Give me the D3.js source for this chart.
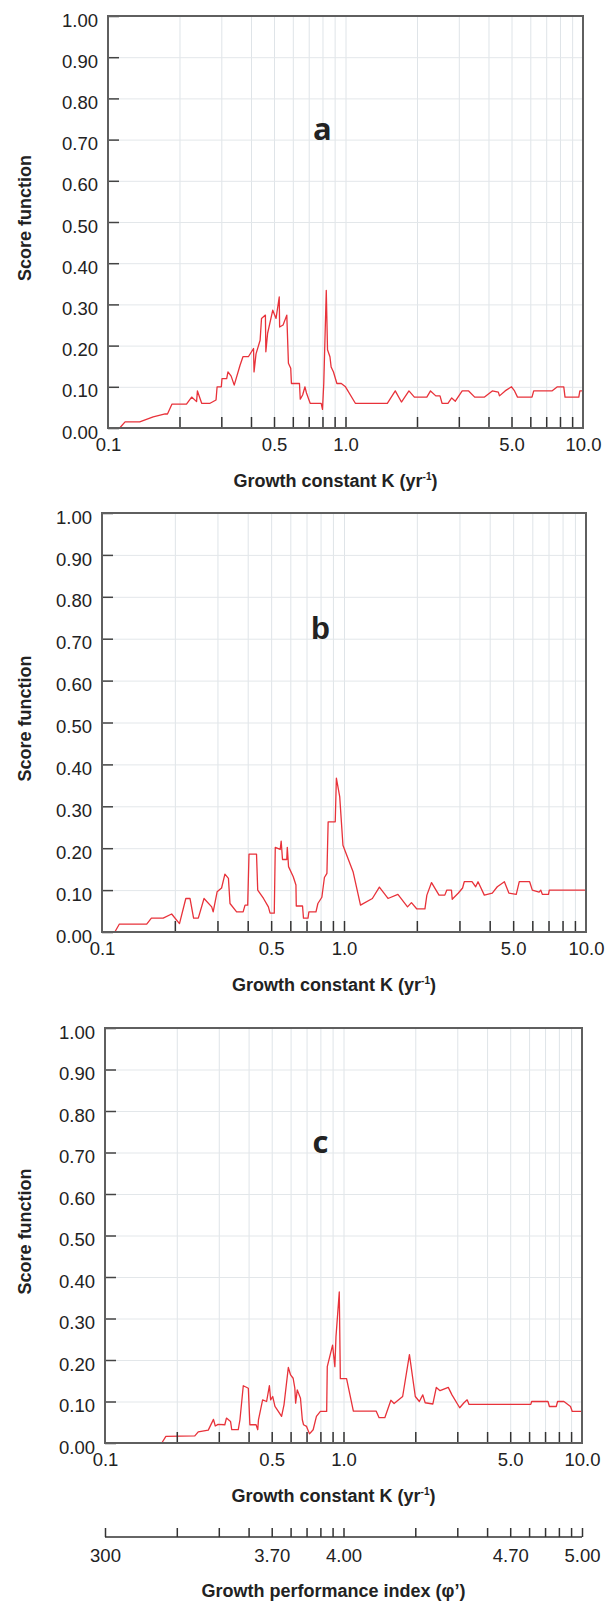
<!DOCTYPE html>
<html>
<head>
<meta charset="utf-8">
<script src="https://cdn.jsdelivr.net/npm/d3@7"></script>
<style>
  body { margin: 0; background: #fff; }
  svg { display: block; }
  .tick text { font-family: "Liberation Sans", Arial, sans-serif; }
</style>
</head>
<body>
<svg id="chart" width="616" height="1604"></svg>
<script>
// ---- data
const kA = [0.112,0.118,0.136,0.155,0.174,0.178,0.186,0.214,0.225,0.236,0.238,0.248,0.269,0.285,0.288,0.30,0.302,0.316,0.32,0.33,0.34,0.36,0.37,0.39,0.41,0.412,0.42,0.437,0.443,0.46,0.462,0.47,0.494,0.51,0.526,0.528,0.546,0.566,0.575,0.588,0.592,0.64,0.645,0.66,0.675,0.685,0.71,0.79,0.80,0.81,0.83,0.84,0.86,0.87,0.89,0.92,0.96,1.0,1.1,1.5,1.62,1.72,1.85,1.95,2.2,2.28,2.4,2.5,2.55,2.7,2.8,2.9,3.1,3.3,3.5,3.85,4.15,4.4,4.45,4.7,5.0,5.15,5.3,6.1,6.2,7.4,7.8,8.3,8.4,9.6,9.7,10];
const scoreA = [0,0.015,0.015,0.027,0.034,0.034,0.058,0.058,0.075,0.064,0.09,0.06,0.06,0.068,0.10,0.10,0.12,0.12,0.136,0.126,0.104,0.153,0.173,0.173,0.193,0.136,0.18,0.213,0.266,0.274,0.185,0.23,0.286,0.266,0.318,0.245,0.25,0.274,0.157,0.145,0.108,0.108,0.07,0.08,0.10,0.085,0.06,0.06,0.045,0.108,0.334,0.19,0.173,0.148,0.136,0.108,0.108,0.10,0.06,0.06,0.09,0.063,0.09,0.075,0.075,0.09,0.078,0.078,0.06,0.06,0.073,0.065,0.09,0.09,0.075,0.075,0.09,0.087,0.078,0.09,0.10,0.09,0.075,0.075,0.09,0.09,0.10,0.10,0.075,0.075,0.09,0.09];

const kB = [0.113,0.118,0.153,0.16,0.179,0.194,0.209,0.222,0.231,0.239,0.25,0.264,0.284,0.288,0.299,0.312,0.322,0.333,0.338,0.36,0.383,0.39,0.40,0.405,0.435,0.44,0.465,0.487,0.495,0.515,0.52,0.545,0.55,0.557,0.58,0.583,0.59,0.617,0.633,0.635,0.674,0.68,0.71,0.716,0.766,0.78,0.81,0.83,0.85,0.86,0.92,0.93,0.96,0.99,1.09,1.17,1.31,1.40,1.52,1.67,1.83,1.9,2.0,2.16,2.2,2.3,2.47,2.61,2.66,2.78,2.8,2.97,3.09,3.14,3.38,3.5,3.58,3.8,4.1,4.3,4.6,4.8,5.15,5.3,5.85,6.0,6.4,6.5,6.6,7.0,7.05,10];
const scoreB = [0,0.019,0.019,0.033,0.033,0.043,0.02,0.08,0.08,0.033,0.033,0.08,0.06,0.048,0.096,0.105,0.138,0.128,0.068,0.048,0.048,0.064,0.064,0.186,0.186,0.10,0.08,0.06,0.045,0.045,0.202,0.197,0.217,0.173,0.173,0.202,0.156,0.132,0.112,0.062,0.062,0.033,0.033,0.048,0.048,0.068,0.083,0.13,0.14,0.263,0.263,0.367,0.323,0.207,0.144,0.064,0.08,0.107,0.08,0.09,0.06,0.07,0.055,0.055,0.088,0.118,0.088,0.088,0.10,0.10,0.078,0.093,0.105,0.12,0.12,0.108,0.12,0.088,0.093,0.108,0.12,0.093,0.09,0.12,0.12,0.10,0.095,0.10,0.09,0.09,0.10,0.10];

const kC = [0.173,0.18,0.238,0.246,0.271,0.285,0.29,0.298,0.318,0.323,0.336,0.34,0.362,0.368,0.38,0.399,0.405,0.43,0.437,0.44,0.458,0.476,0.489,0.495,0.505,0.516,0.533,0.55,0.563,0.587,0.60,0.615,0.625,0.63,0.64,0.66,0.672,0.68,0.70,0.72,0.746,0.77,0.80,0.85,0.855,0.90,0.92,0.93,0.96,0.97,1.03,1.1,1.37,1.41,1.49,1.58,1.63,1.77,1.89,2.0,2.08,2.15,2.2,2.37,2.45,2.54,2.75,2.85,3.07,3.2,3.3,3.36,6.1,6.15,7.2,7.3,7.8,7.9,8.4,8.95,9.1,10];
const scoreC = [0,0.016,0.017,0.027,0.031,0.057,0.041,0.045,0.044,0.06,0.052,0.032,0.032,0.056,0.138,0.132,0.044,0.044,0.032,0.056,0.104,0.10,0.138,0.104,0.112,0.088,0.076,0.064,0.092,0.182,0.164,0.156,0.132,0.096,0.128,0.108,0.056,0.044,0.04,0.022,0.032,0.064,0.076,0.076,0.184,0.236,0.184,0.256,0.364,0.155,0.155,0.077,0.077,0.061,0.061,0.103,0.095,0.112,0.213,0.112,0.10,0.116,0.097,0.094,0.134,0.126,0.134,0.116,0.085,0.097,0.104,0.093,0.093,0.10,0.10,0.088,0.088,0.10,0.10,0.088,0.076,0.076];

const yTickValues = [0,0.1,0.2,0.3,0.4,0.5,0.6,0.7,0.8,0.9,1.0];
const minorK = [0.2,0.3,0.4,0.5,0.6,0.7,0.8,0.9,1,2,3,4,5,6,7,8,9];
const labelK = [0.1,0.5,1,5,10];
const labelKText = ["0.1","0.5","1.0","5.0","10.0"];
const phiLabels = ["300","3.70","4.00","4.70","5.00"];

const panels = [
  { letter: "a", k: kA, s: scoreA, x0: 108, x1: 583, top: 16, bot: 428, letterFont: "Open Sans" },
  { letter: "b", k: kB, s: scoreB, x0: 102, x1: 586, top: 513, bot: 932, letterFont: "Liberation Sans" },
  { letter: "c", k: kC, s: scoreC, x0: 105, x1: 582, top: 1028, bot: 1443, letterFont: "Open Sans" }
];

const svg = d3.select('#chart');
svg.append('rect').attr('width', 616).attr('height', 1604).attr('fill', '#fff');

const numFont = '"Liberation Sans", Arial, sans-serif';

function drawPanel(p) {
  const x = d3.scaleLog().domain([0.1, 10]).range([p.x0, p.x1]);
  const y = d3.scaleLinear().domain([0, 1]).range([p.bot, p.top]);
  const g = svg.append('g');

  // grid
  g.append('g')
    .attr('transform', `translate(0,${p.bot})`)
    .call(d3.axisBottom(x).tickValues(minorK).tickSize(-(p.bot - p.top)).tickFormat(''))
    .call(a => a.select('.domain').remove())
    .selectAll('line').attr('stroke', '#dfe4e8').attr('stroke-width', 1);
  g.append('g')
    .attr('transform', `translate(${p.x0},0)`)
    .call(d3.axisLeft(y).tickValues(yTickValues.slice(1, 10)).tickSize(-(p.x1 - p.x0)).tickFormat(''))
    .call(a => a.select('.domain').remove())
    .selectAll('line').attr('stroke', '#e3e7ea').attr('stroke-width', 1);

  // line
  const pts = p.k.map((k, i) => ({ k, s: p.s[i] }));
  g.append('path')
    .datum(pts)
    .attr('fill', 'none')
    .attr('stroke', '#e8323a')
    .attr('stroke-width', 1.3)
    .attr('stroke-linejoin', 'round')
    .attr('d', d3.line().x(d => x(d.k)).y(d => y(d.s)));

  // inner ticks
  g.append('g')
    .attr('transform', `translate(0,${p.bot})`)
    .call(d3.axisBottom(x).tickValues(minorK).tickSize(-11).tickFormat(''))
    .call(a => a.select('.domain').remove())
    .selectAll('line').attr('stroke', '#333').attr('stroke-width', 1.5);

  const yAx = g.append('g')
    .attr('transform', `translate(${p.x0},0)`)
    .call(d3.axisLeft(y).tickValues(yTickValues).tickSize(-11).tickPadding(10).tickFormat(d3.format('.2f')));
  yAx.select('.domain').remove();
  yAx.selectAll('line').attr('stroke', '#444').attr('stroke-width', 1.5);
  yAx.selectAll('text')
    .attr('dy', '0.55em')
    .style('font-family', numFont).style('font-size', '18.5px').attr('fill', '#222');

  // x labels
  const xAx = g.append('g')
    .attr('transform', `translate(0,${p.bot})`)
    .call(d3.axisBottom(x).tickValues(labelK).tickSize(0).tickPadding(10).tickFormat((d, i) => labelKText[i]));
  xAx.select('.domain').remove();
  xAx.selectAll('text')
    .style('font-family', numFont).style('font-size', '18.5px').attr('fill', '#222');

  // frame
  g.append('rect')
    .attr('x', p.x0).attr('y', p.top)
    .attr('width', p.x1 - p.x0).attr('height', p.bot - p.top)
    .attr('fill', 'none').attr('stroke', '#5f5f5f').attr('stroke-width', 2);

  // titles
  const t = g.append('text')
    .attr('x', (p.x0 + p.x1) / 2 - 10).attr('y', p.bot + 59)
    .attr('text-anchor', 'middle')
    .style('font-family', numFont).style('font-weight', 'bold').style('font-size', '18px')
    .attr('fill', '#222');
  t.append('tspan').text('Growth constant K (yr');
  t.append('tspan').attr('dy', -7).style('font-size', '10px').text('-1');
  t.append('tspan').attr('dy', 7).text(')');

  g.append('text')
    .attr('transform', `translate(31,${(p.top + p.bot) / 2 - 4}) rotate(-90)`)
    .attr('text-anchor', 'middle')
    .style('font-family', numFont).style('font-weight', 'bold').style('font-size', '18px')
    .attr('fill', '#222')
    .text('Score function');

  g.append('text')
    .attr('x', x(0.8)).attr('y', y(0.70))
    .attr('text-anchor', 'middle')
    .style('font-family', p.letterFont).style('font-weight', 'bold').style('font-size', '31px')
    .attr('fill', '#222')
    .text(p.letter);

  return x;
}

let xC;
panels.forEach(p => { xC = drawPanel(p); });

// second axis (growth performance index)
const pc = panels[2];
const axisY = 1537;
const phiAxis = svg.append('g').attr('transform', `translate(0,${axisY})`);
phiAxis.call(d3.axisBottom(xC).tickValues([0.1].concat(minorK, [10])).tickSize(-9).tickFormat(''))
  .call(a => a.select('.domain').attr('d', `M${pc.x0},0H${pc.x1}`).attr('stroke', '#333').attr('stroke-width', 1.5))
  .selectAll('line').attr('stroke', '#333').attr('stroke-width', 1.5);
const phiLab = svg.append('g').attr('transform', `translate(0,${axisY})`)
  .call(d3.axisBottom(xC).tickValues(labelK).tickSize(0).tickPadding(12).tickFormat((d, i) => phiLabels[i]));
phiLab.select('.domain').remove();
phiLab.selectAll('text').style('font-family', numFont).style('font-size', '18.5px').attr('fill', '#222');

svg.append('text')
  .attr('x', (pc.x0 + pc.x1) / 2 - 10).attr('y', 1597)
  .attr('text-anchor', 'middle')
  .style('font-family', numFont).style('font-weight', 'bold').style('font-size', '18px')
  .attr('fill', '#222')
  .text('Growth performance index (φ’)');
</script>
</body>
</html>
